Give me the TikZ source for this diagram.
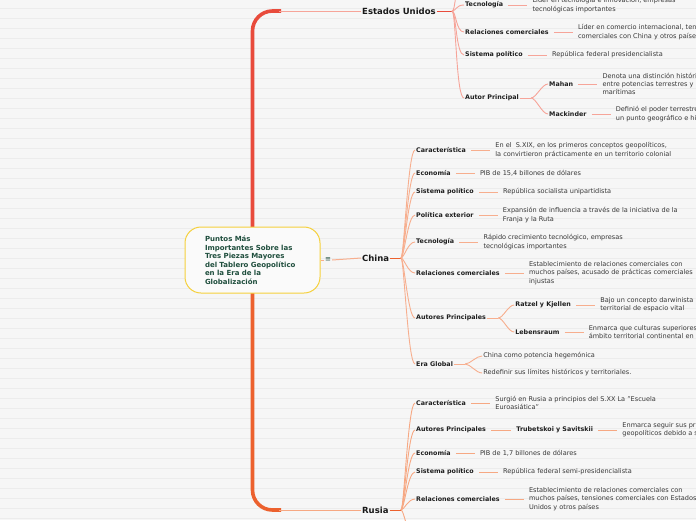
\documentclass[tikz,border=0pt]{standalone}
\usepackage{fontspec}
\setmainfont{DejaVu Sans}
\usepackage{xcolor}
\usepackage{tikz}
\usetikzlibrary{positioning,calc}

\definecolor{trunkred}{HTML}{E84B3C}
\definecolor{trunkorange}{HTML}{EC612E}
\definecolor{usaline}{HTML}{F6A499}
\definecolor{chinaline}{HTML}{F7AE8E}
\definecolor{rusialine}{HTML}{F6A883}
\definecolor{hubtext}{HTML}{1F4E3D}
\definecolor{hubborder}{HTML}{F5D03C}
\definecolor{paper}{HTML}{F6F6F6}
\definecolor{ruleline}{HTML}{ECECEC}
\definecolor{notetext}{HTML}{383838}

\tikzset{
	hub/.style={draw=hubborder, line width=1pt, fill=paper!50!white, rounded corners=16pt,
		text width=95pt, align=left, inner xsep=20pt, minimum width=135pt, minimum height=66pt,
		font=\fontsize{7}{8.5}\selectfont\bfseries, text=hubtext},
	branch/.style={anchor=west, inner sep=1pt, font=\fontsize{8.5}{10}\selectfont\bfseries, text=black!90},
	topic/.style={anchor=west, inner sep=1pt, font=\fontsize{6.35}{7.5}\selectfont\bfseries, text=black!88},
	note/.style={anchor=west, inner sep=1pt, align=left, font=\fontsize{6.55}{8.3}\selectfont, text=notetext},
	fan/.style={line width=0.9pt},
	link/.style={line width=0.9pt, shorten <=4pt, shorten >=4pt},
}

\begin{document}
\begin{tikzpicture}[x=1pt, y=-1pt]
	\useasboundingbox (0,0) rectangle (696,520);
	\clip (0,0) rectangle (696,520);
	
	% ruled paper
	\fill[paper] (0,0) rectangle (696,520);
	\foreach \ry in {0,...,51}
		\draw[ruleline, line width=0.7pt] (0,8.3+10*\ry) -- (696,8.3+10*\ry);
	
	% main branches
	\node[branch] (usa) at (361,11) {Estados Unidos};
	\node[branch] (china) at (361,258) {China};
	\node[branch] (rusia) at (361,510) {Rusia};
	
	\draw[trunkred, line width=3.6pt, rounded corners=20pt] (252.5,262) -- (252.5,11) -- ([xshift=-80pt]usa.west);
	\draw[trunkorange, line width=3.6pt, rounded corners=20pt] (252.5,258) -- (252.5,510) -- ([xshift=-80pt]rusia.west);
	\draw[usaline, line width=1pt] ([xshift=-82pt]usa.west) -- (usa.west);
	\draw[rusialine, line width=1pt] ([xshift=-82pt]rusia.west) -- (rusia.west);
	
	\node[hub] (hub) at (252.5,260) {Puntos Más\\Importantes Sobre las\\Tres Piezas Mayores\\del Tablero Geopolítico\\en la Era de la\\Globalización};
	\node[text=hubtext, font=\fontsize{7}{8}\selectfont, inner sep=1pt] (menu) at (328,260) {≡};
	\draw[chinaline, line width=1pt] (hub.east) -- (menu.west);
	\draw[chinaline, line width=1pt] (menu.east) -- (china.west);
	
	% Estados Unidos
	\coordinate (usa-j) at (452,11);
	\coordinate (usa-up) at (462,-14);
	\draw[trunkred, line width=1pt] (usa.east) -- (usa-j);
	\node[topic] (usa-tec) at (464,5) {Tecnología};
	\node[topic] (usa-rel) at (464,32) {Relaciones comerciales};
	\node[topic] (usa-sis) at (464,55) {Sistema político};
	\node[topic] (usa-aut) at (464,98) {Autor Principal};
	\draw[usaline, fan] (usa-j) .. controls +(4,0) and +(-8,0) .. (usa-up);
	\foreach \c in {usa-tec,usa-rel,usa-sis,usa-aut}
		\draw[usaline, fan] (usa-j) .. controls +(4,0) and +(-8,0) .. (\c.west);
	
	\node[note, right=27pt of usa-tec] (usa-tec-d) {Líder en tecnología e innovación, empresas\\tecnológicas importantes};
	\node[note, right=27pt of usa-rel] (usa-rel-d) {Líder en comercio internacional, tensiones\\comerciales con China y otros países};
	\node[note, right=27pt of usa-sis] (usa-sis-d) {República federal presidencialista};
	\draw[usaline, link] (usa-tec.east) -- (usa-tec-d.west);
	\draw[usaline, link] (usa-rel.east) -- (usa-rel-d.west);
	\draw[usaline, link] (usa-sis.east) -- (usa-sis-d.west);
	
	\coordinate (usa-aut-j) at ([xshift=11pt]usa-aut.east);
	\node[topic, right=28pt of usa-aut, yshift=14pt] (usa-mahan) {Mahan};
	\node[topic, right=28pt of usa-aut, yshift=-16pt] (usa-mack) {Mackinder};
	\draw[usaline, fan] (usa-aut.east) -- (usa-aut-j);
	\foreach \c in {usa-mahan,usa-mack}
		\draw[usaline, fan] (usa-aut-j) .. controls +(5,0) and +(-6,0) .. (\c.west);
	\node[note, right=27pt of usa-mahan] (usa-mahan-d) {Denota una distinción histórica\\entre potencias terrestres y\\marítimas};
	\node[note, right=27pt of usa-mack] (usa-mack-d) {Definió el poder terrestre\\un punto geográfico e histórico};
	\draw[usaline, link] (usa-mahan.east) -- (usa-mahan-d.west);
	\draw[usaline, link] (usa-mack.east) -- (usa-mack-d.west);
	
	% China
	\coordinate (china-j) at (401,258);
	\draw[trunkorange, line width=1pt] (china.east) -- (china-j);
	\node[topic] (china-car) at (415,150) {Característica};
	\node[topic] (china-eco) at (415,173) {Economía};
	\node[topic] (china-sis) at (415,192) {Sistema político};
	\node[topic] (china-pol) at (415,215) {Política exterior};
	\node[topic] (china-tec) at (415,242) {Tecnología};
	\node[topic] (china-rel) at (415,273) {Relaciones comerciales};
	\node[topic] (china-aut) at (415,318) {Autores Principales};
	\node[topic] (china-era) at (415,364) {Era Global};
	\foreach \c in {china-car,china-eco,china-sis,china-pol,china-tec,china-rel,china-aut,china-era}
		\draw[chinaline, fan] (china-j) .. controls +(3,0) and +(-7,0) .. (\c.west);
	
	\node[note, right=27pt of china-car] (china-car-d) {En el~ S.XIX, en los primeros conceptos geopolíticos,\\la convirtieron prácticamente en un territorio colonial};
	\node[note, right=27pt of china-eco] (china-eco-d) {PIB de 15,4 billones de dólares};
	\node[note, right=27pt of china-sis] (china-sis-d) {República socialista unipartidista};
	\node[note, right=27pt of china-pol] (china-pol-d) {Expansión de influencia a través de la iniciativa de la\\Franja y la Ruta};
	\node[note, right=27pt of china-tec] (china-tec-d) {Rápido crecimiento tecnológico, empresas\\tecnológicas importantes};
	\node[note, right=27pt of china-rel] (china-rel-d) {Establecimiento de relaciones comerciales con\\muchos países, acusado de prácticas comerciales\\injustas};
	\foreach \c in {china-car,china-eco,china-sis,china-pol,china-tec,china-rel}
		\draw[chinaline, link] (\c.east) -- (\c-d.west);
	
	\coordinate (china-aut-j) at ([xshift=11pt]china-aut.east);
	\node[topic, right=27pt of china-aut, yshift=13pt] (china-ratzel) {Ratzel y Kjellen};
	\node[topic, right=27pt of china-aut, yshift=-14pt] (china-leb) {Lebensraum};
	\draw[chinaline, fan] (china-aut.east) -- (china-aut-j);
	\foreach \c in {china-ratzel,china-leb}
		\draw[chinaline, fan] (china-aut-j) .. controls +(5,0) and +(-6,0) .. (\c.west);
	\node[note, right=27pt of china-ratzel] (china-ratzel-d) {Bajo un concepto darwinista\\territorial de espacio vital};
	\node[note, right=27pt of china-leb] (china-leb-d) {Enmarca que culturas superiores\\ámbito territorial continental en};
	\draw[chinaline, link] (china-ratzel.east) -- (china-ratzel-d.west);
	\draw[chinaline, link] (china-leb.east) -- (china-leb-d.west);
	
	\coordinate (china-era-j) at ([xshift=11pt]china-era.east);
	\node[note, right=28pt of china-era, yshift=8pt] (china-era-a) {China como potencia hegemónica};
	\node[note, right=28pt of china-era, yshift=-9pt] (china-era-b) {Redefinir sus límites históricos y territoriales.};
	\draw[chinaline, fan] (china-era.east) -- (china-era-j);
	\foreach \c in {china-era-a,china-era-b}
		\draw[chinaline, fan] (china-era-j) .. controls +(5,0) and +(-6,0) .. (\c.west);
	
	% Rusia
	\coordinate (rusia-j) at (401,510);
	\coordinate (rusia-down) at (413,532);
	\draw[trunkorange, line width=1pt] (rusia.east) -- (rusia-j);
	\node[topic] (rusia-car) at (415,403) {Característica};
	\node[topic] (rusia-aut) at (415,430) {Autores Principales};
	\node[topic] (rusia-eco) at (415,453) {Economía};
	\node[topic] (rusia-sis) at (415,472) {Sistema político};
	\node[topic] (rusia-rel) at (415,499) {Relaciones comerciales};
	\draw[rusialine, fan] (rusia-j) .. controls +(3,0) and +(-7,0) .. (rusia-down);
	\foreach \c in {rusia-car,rusia-aut,rusia-eco,rusia-sis,rusia-rel}
		\draw[rusialine, fan] (rusia-j) .. controls +(3,0) and +(-7,0) .. (\c.west);
	
	\node[note, right=27pt of rusia-car] (rusia-car-d) {Surgió en Rusia a principios del S.XX La "Escuela\\Euroasiática"};
	\node[topic, right=28pt of rusia-aut] (rusia-trub) {Trubetskoi y Savitskii};
	\node[note, right=27pt of rusia-trub] (rusia-trub-d) {Enmarca seguir sus principios\\geopolíticos debido a su};
	\node[note, right=27pt of rusia-eco] (rusia-eco-d) {PIB de 1,7 billones de dólares};
	\node[note, right=27pt of rusia-sis] (rusia-sis-d) {República federal semi-presidencialista};
	\node[note, right=27pt of rusia-rel] (rusia-rel-d) {Establecimiento de relaciones comerciales con\\muchos países, tensiones comerciales con Estados\\Unidos y otros países};
	\draw[rusialine, link] (rusia-aut.east) -- (rusia-trub.west);
	\foreach \c in {rusia-car,rusia-trub,rusia-eco,rusia-sis,rusia-rel}
		\draw[rusialine, link] (\c.east) -- (\c-d.west);
\end{tikzpicture}
\end{document}
